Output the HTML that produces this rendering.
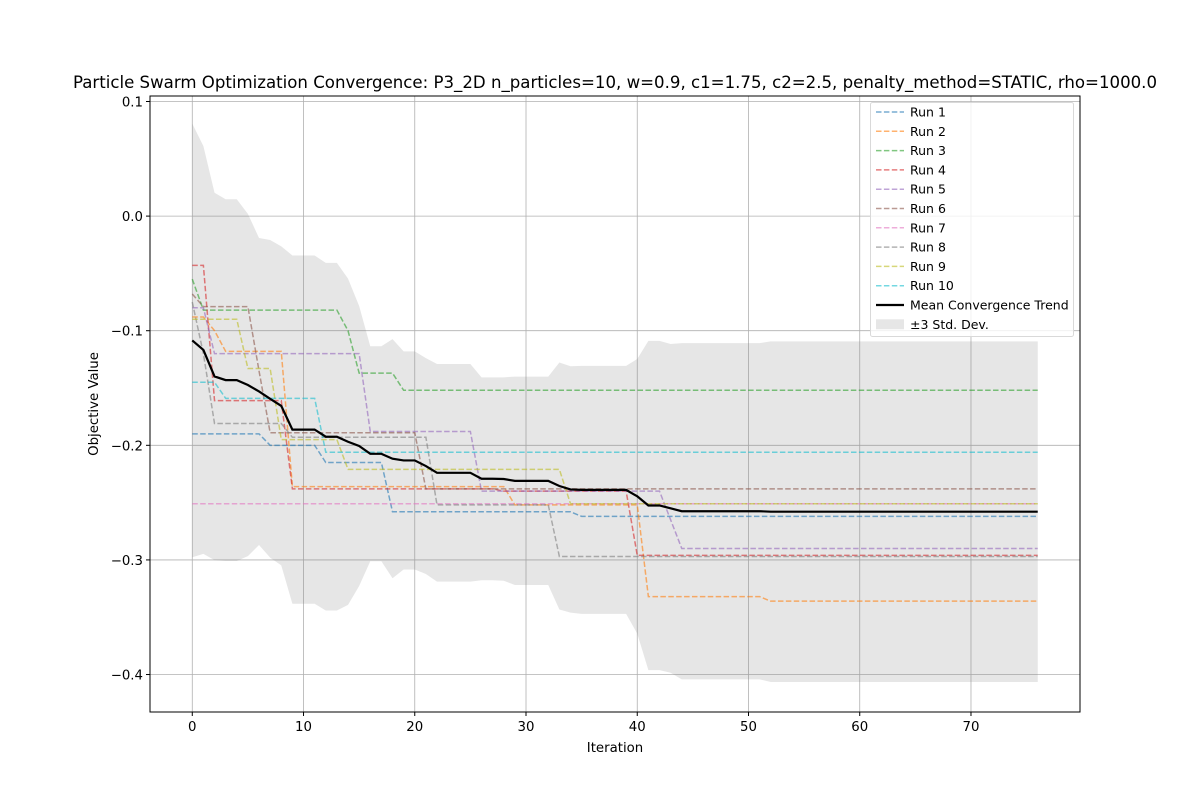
<!DOCTYPE html>
<html><head><meta charset="utf-8"><style>
body{margin:0;background:#fff;}
svg{display:block;font-family:"DejaVu Sans","Liberation Sans",sans-serif;}
</style></head><body>
<svg id="chart" width="1200" height="800" viewBox="0 0 1200 800">
<rect width="1200" height="800" fill="#fff"/>
<text x="615" y="88" text-anchor="middle" font-size="16.6">Particle Swarm Optimization Convergence: P3_2D n_particles=10, w=0.9, c1=1.75, c2=2.5, penalty_method=STATIC, rho=1000.0</text>
<g id="grid"></g>
<g id="band"></g>
<g id="runs"></g>
<g id="mean"></g>
<rect x="150" y="96" width="930" height="616" fill="none" stroke="#000" stroke-width="1"/>
<g id="ticks"></g>
<text x="615" y="752" text-anchor="middle" font-size="13.3">Iteration</text>
<text transform="translate(98,404) rotate(-90)" text-anchor="middle" font-size="13.3">Objective Value</text>
<g id="legend"></g>
</svg>
<script>
const iterations = 77;
const xTicks = [0,10,20,30,40,50,60,70];
const yTicks = [0.1,0.0,-0.1,-0.2,-0.3,-0.4];
const yTickLabels = ["0.1","0.0","\u22120.1","\u22120.2","\u22120.3","\u22120.4"];
const runNames = ["Run 1","Run 2","Run 3","Run 4","Run 5","Run 6","Run 7","Run 8","Run 9","Run 10"];
// [iteration, value] change points (value holds until the next point)
const run1 = [[0,-0.19],[7,-0.2],[12,-0.215],[18,-0.258],[35,-0.262]];
const run2 = [[0,-0.088],[2,-0.1],[3,-0.118],[9,-0.236],[29,-0.252],[41,-0.332],[52,-0.336]];
const run3 = [[0,-0.055],[1,-0.082],[14,-0.1],[15,-0.137],[19,-0.152]];
const run4 = [[0,-0.043],[2,-0.161],[9,-0.238],[28,-0.24],[40,-0.296]];
const run5 = [[0,-0.08],[2,-0.12],[16,-0.188],[26,-0.24],[43,-0.265],[44,-0.29]];
const run6 = [[0,-0.068],[1,-0.079],[6,-0.135],[7,-0.189],[21,-0.238]];
const run7 = [[0,-0.251]];
const run8 = [[0,-0.075],[1,-0.12],[2,-0.181],[9,-0.193],[22,-0.252],[33,-0.297]];
const run9 = [[0,-0.09],[5,-0.133],[8,-0.195],[14,-0.221],[34,-0.251]];
const run10 = [[0,-0.145],[3,-0.159],[12,-0.206]];
const runs = [run1,run2,run3,run4,run5,run6,run7,run8,run9,run10];
const colors = ["#1f77b4","#ff7f0e","#2ca02c","#d62728","#9467bd","#8c564b","#e377c2","#7f7f7f","#bcbd22","#17becf"];

const NS="http://www.w3.org/2000/svg";
const X0=150,X1=1080,Y0=96,Y1=712;
const xMin=-3.8,xMax=79.8,yMin=-0.4327,yMax=0.1048;
const xs=v=>X0+(v-xMin)/(xMax-xMin)*(X1-X0);
const ys=v=>Y1-(v-yMin)/(yMax-yMin)*(Y1-Y0);
function mk(tag,attrs,parent){const e=document.createElementNS(NS,tag);for(const k in attrs)e.setAttribute(k,attrs[k]);parent.appendChild(e);return e;}
function expand(pts){const out=[];let j=0;for(let i=0;i<iterations;i++){while(j+1<pts.length&&pts[j+1][0]<=i)j++;out.push(pts[j][1]);}return out;}
const series=runs.map(expand);
const mean=[],upper=[],lower=[];
for(let i=0;i<iterations;i++){const vals=series.map(s=>s[i]);const m=vals.reduce((a,b)=>a+b,0)/vals.length;const sd=Math.sqrt(vals.reduce((a,b)=>a+(b-m)*(b-m),0)/vals.length);mean.push(m);upper.push(m+3*sd);lower.push(m-3*sd);}

const grid=document.getElementById('grid');
xTicks.forEach(t=>{const l=mk('line',{x1:xs(t),x2:xs(t),y1:Y0,y2:Y1,stroke:'#b0b0b0','stroke-width':0.8},grid);});
yTicks.forEach(t=>{const l=mk('line',{x1:X0,x2:X1,y1:ys(t),y2:ys(t),stroke:'#b0b0b0','stroke-width':0.8},grid);});

let bp='';for(let i=0;i<iterations;i++)bp+=(i?'L':'M')+xs(i)+','+ys(upper[i]);for(let i=iterations-1;i>=0;i--)bp+='L'+xs(i)+','+ys(lower[i]);
const band=mk('path',{d:bp+'Z',fill:'#808080','fill-opacity':0.2},document.getElementById('band'));



const rg=document.getElementById('runs');
series.forEach((s,k)=>{const d=s.map((v,i)=>(i?'L':'M')+xs(i)+','+ys(v)).join('');const p=mk('path',{d:d,fill:'none',stroke:colors[k],'stroke-opacity':0.6,'stroke-width':1.5,'stroke-dasharray':'5.5,2.4'},rg);});
const md=mean.map((v,i)=>(i?'L':'M')+xs(i)+','+ys(v)).join('');
const ml=mk('path',{d:md,fill:'none',stroke:'#000','stroke-width':2.2},document.getElementById('mean'));



const tg=document.getElementById('ticks');
xTicks.forEach(t=>{mk('line',{x1:xs(t),x2:xs(t),y1:Y1,y2:Y1+4,stroke:'#000'},tg);const tx=mk('text',{x:xs(t),y:Y1+19,'text-anchor':'middle','font-size':13.3},tg);tx.textContent=t;});
yTicks.forEach((t,i)=>{mk('line',{x1:X0-4,x2:X0,y1:ys(t),y2:ys(t),stroke:'#000'},tg);const tx=mk('text',{x:X0-7,y:ys(t)+5,'text-anchor':'end','font-size':13.3},tg);tx.textContent=yTickLabels[i];});

const lg=document.getElementById('legend');
mk('rect',{x:870.5,y:102.5,width:203,height:234,rx:2,fill:'#fff','fill-opacity':0.8,stroke:'#d9d9d9'},lg);
const labels=runNames.concat(['Mean Convergence Trend','\u00b13 Std. Dev.']);
labels.forEach((lab,k)=>{const y=112+k*19.3;const g=mk('g',{},lg);
 if(k<10)mk('line',{x1:876,x2:904,y1:y,y2:y,stroke:colors[k],'stroke-opacity':0.6,'stroke-width':1.5,'stroke-dasharray':'5.5,2.4'},g);
 else if(k==10)mk('line',{x1:876,x2:904,y1:y,y2:y,stroke:'#000','stroke-width':2.2},g);
 else mk('rect',{x:876,y:y-5,width:28,height:10,fill:'#808080','fill-opacity':0.2},g);
 const t=mk('text',{x:910,y:y+4.5,'font-size':12.5},g);t.textContent=lab;});
</script>
</body></html>
